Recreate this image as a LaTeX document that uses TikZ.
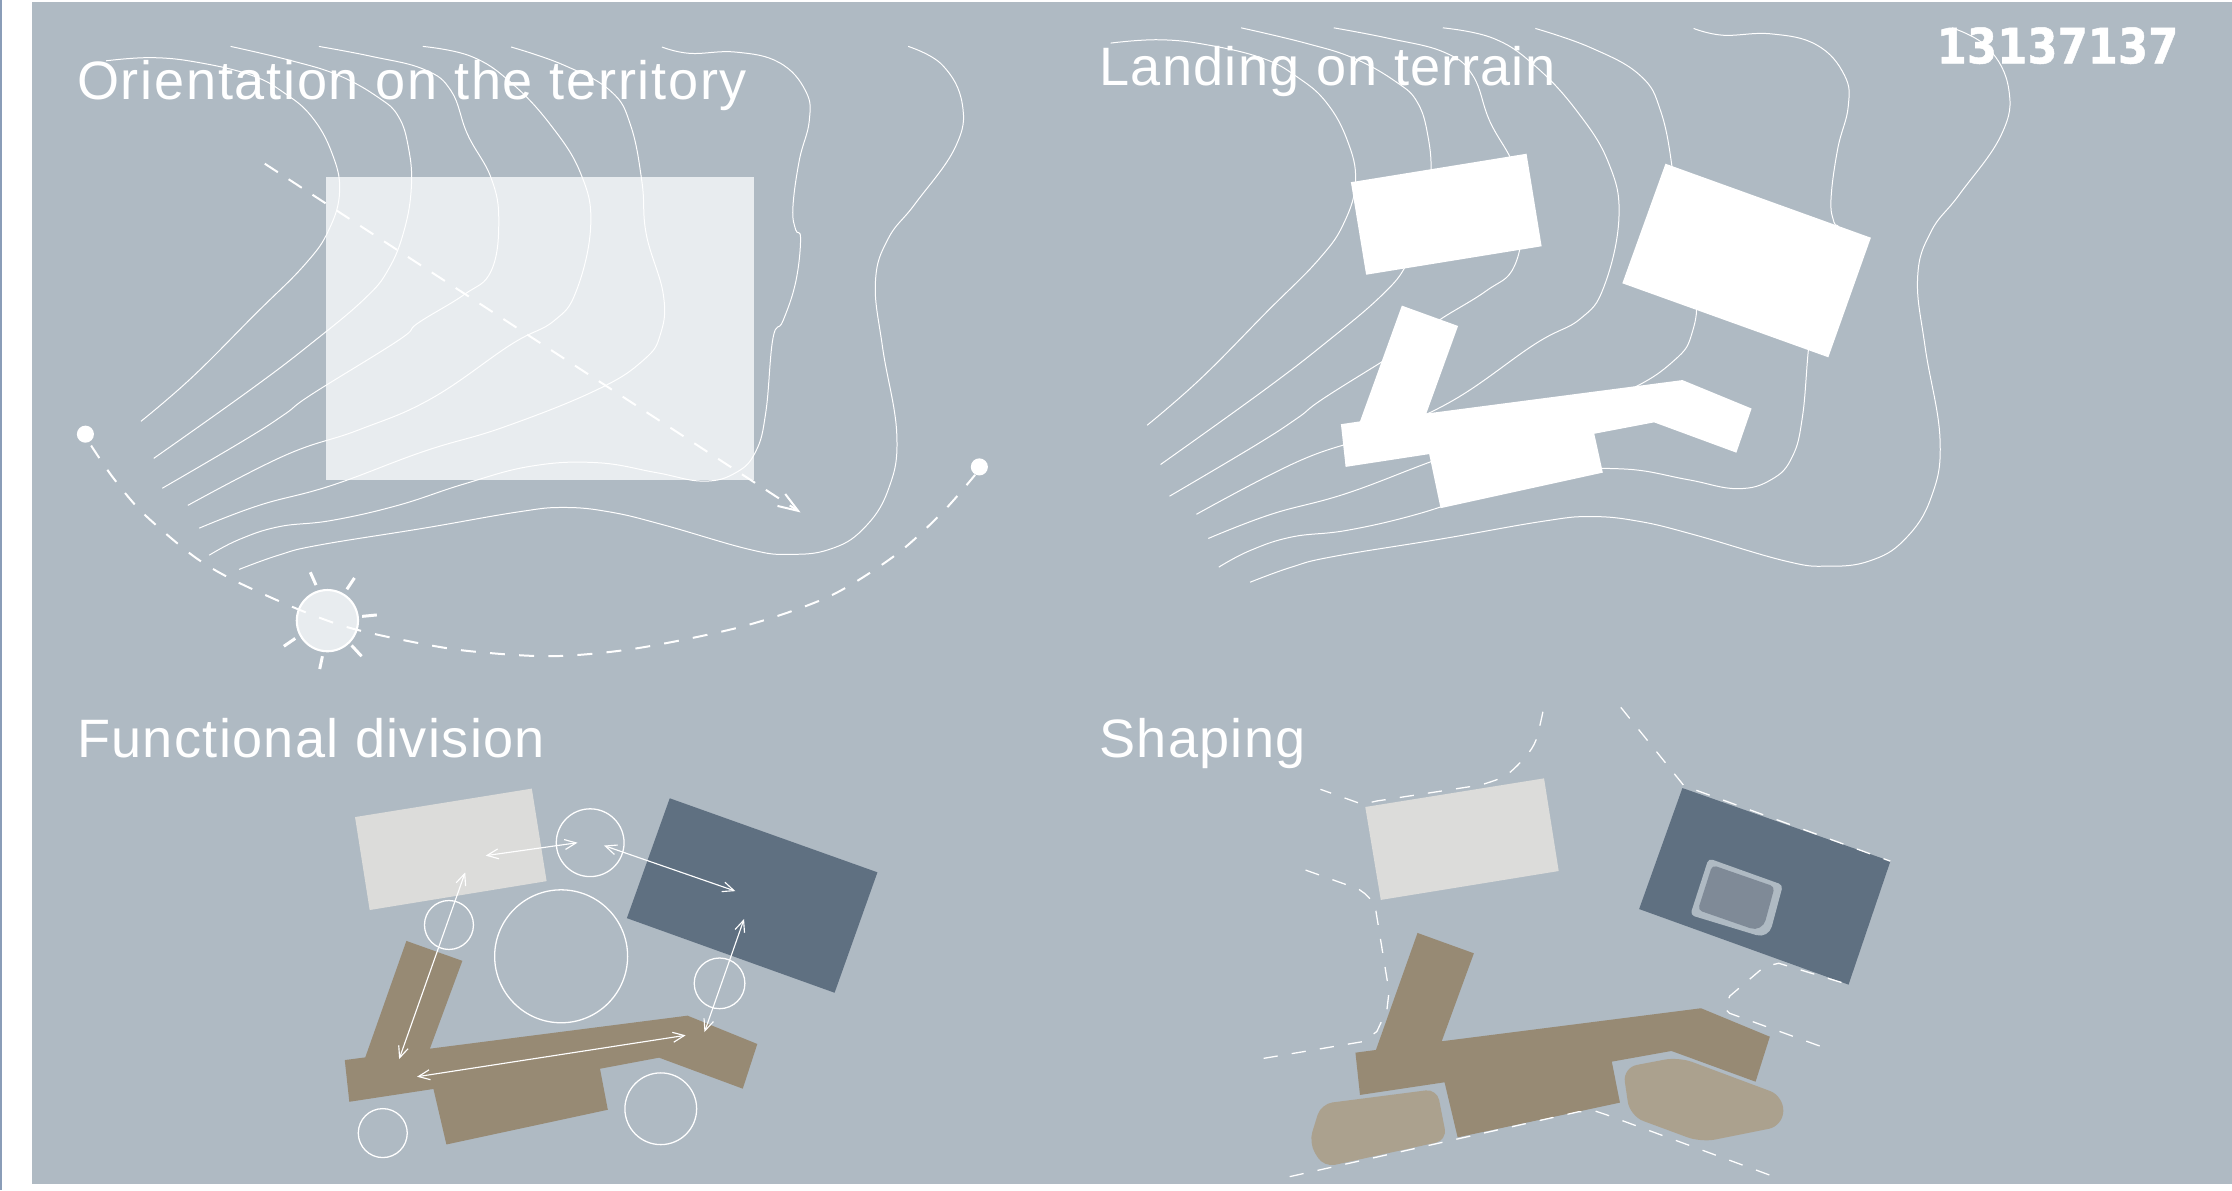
\documentclass[tikz,border=0pt]{standalone}
\usepackage{fontspec}
\setmainfont{Liberation Sans}
\newfontfamily\numberfont{DejaVu Sans}
\usetikzlibrary{arrows.meta}

\definecolor{panelgrey}{HTML}{AFBAC3}
\definecolor{edgeblue}{HTML}{8A9DB8}
\definecolor{plotpale}{HTML}{E8ECEF}
\definecolor{blockgrey}{HTML}{DCDCDA}
\definecolor{blockblue}{HTML}{5F7081}
\definecolor{blocktan}{HTML}{978A74}
\definecolor{terracetan}{HTML}{ABA18E}
\definecolor{poolgrey}{HTML}{7F8A97}

\tikzset{
	contourline/.style={white, line width=0.7pt},
	sunpath/.style={white, line width=1.4pt, dash pattern=on 10.5pt off 10pt},
	edgedash/.style={white, line width=0.9pt, dash pattern=on 10pt off 10pt},
	linkarrow/.style={white, line width=0.8pt, {Straight Barb[length=8pt,width=7pt]}-{Straight Barb[length=8pt,width=7pt]}},
	zonering/.style={draw=white, line width=0.9pt, inner sep=0pt, shape=circle},
	paneltitle/.style={white, anchor=base west, inner sep=0pt, font=\fontsize{38}{44}\selectfont\addfontfeature{LetterSpace=2.5}},
}

\newcommand{\contourset}{
	\draw[contourline] plot[smooth, tension=0.7] coordinates {(74.6,42.7) (107,40.5) (140,44) (177,53) (200,65.5) (219,82) (233,107) (238.6,134) (231,161.5) (214,186) (179,221) (135,265) (99,296)};
	\draw[contourline] plot[smooth, tension=0.7] coordinates {(162,32.6) (205,42.7) (238,53) (266,68.6) (280,82) (287,104) (289,131) (284,161.5) (273,189) (256,210) (219,241) (177,273) (108,322)};
	\draw[contourline] plot[smooth, tension=0.7] coordinates {(224,32.6) (261,39.6) (298,48.8) (317,64) (328.5,94.5) (345,125) (350.4,155) (345,190.4) (326,207) (293.6,227) (280,239) (219,277) (200,291) (172,309) (114,343)};
	\draw[contourline] plot[smooth, tension=0.7] coordinates {(297,32.6) (331,39.6) (359,58) (387,88) (408,122) (415,158) (405,204) (389,225.5) (359,242) (303,280) (252,302) (200,320) (132,355)};
	\draw[contourline] plot[smooth, tension=0.7] coordinates {(359,33) (396,45.7) (429,64) (443,88) (451,128) (454,164.5) (466,207) (464,234.6) (452,253) (419,274) (354,300) (298,317) (233,341) (182,355) (140,371)};
	\draw[contourline] plot[smooth, tension=0.7] coordinates {(465,33) (484.6,37.5) (517,36.6) (547.5,44) (566,64) (568.5,85) (561.5,112.7) (557,146) (559,161.5) (562.4,167.6) (559,198) (550,225.5) (543,237.7) (538,289.5) (531,317) (517,332) (494,338) (461,332) (419,325) (373,327.5) (326,340) (279.6,355) (233,365.6) (196,370) (168,379) (147,390)};
	\draw[contourline] plot[smooth, tension=0.7] coordinates {(638,32.6) (662,45.7) (676,73) (671,103.6) (643,143) (624,167.6) (615,198) (620,244) (630,305) (624,344) (606,372) (582.5,386) (554.5,389.4) (526.6,386) (466,368.7) (428.7,359.7) (396,356.5) (363.5,359.7) (298,371) (223.7,383) (195.7,390) (168,400)};
}

\begin{document}
\begin{tikzpicture}[x=1pt,y=-1pt]
	\useasboundingbox (0,0) rectangle (1568,836);
	\fill[white] (0,0) rectangle (1568,836);
	\fill[edgeblue] (0,0) rectangle (1.4,836);
	\fill[panelgrey] (22.5,1.4) rectangle (1568,831.7);

	% orientation
	\fill[plotpale] (229,124) rectangle (530,337);
	\contourset
	\coordinate (viewstart) at (186,115);
	\coordinate (viewend) at (562.4,360);
	\draw[white, line width=1.4pt, dash pattern=on 11pt off 9pt, -{Straight Barb[length=14pt,width=10pt]}] (viewstart) -- (viewend);
	\node[circle, fill=white, minimum size=12pt, inner sep=0pt] (sunrise) at (60,305) {};
	\node[circle, fill=white, minimum size=12pt, inner sep=0pt] (sunset) at (688,328) {};
	\node[circle, fill=plotpale, draw=white, line width=1.5pt, minimum size=43pt, inner sep=0pt] (sun) at (230,436) {};
	\draw[sunpath] plot[smooth] coordinates {(64,313) (79,335) (100,360) (135,390) (163,407) (207,427) (242,440) (280,449) (326,457) (387,461) (447,455.5) (522,440) (582.5,419) (629,390) (662,360) (685,333.6)};
	\foreach \xa/\ya/\xb/\yb in {218/402/222/411, 249/406/243.7/414, 264.7/432/254.4/433, 254/461/247/453.4, 224.6/470/226.5/461, 199.4/454/207.4/448.5}
		\draw[white, line width=2.1pt] (\xa,\ya) -- (\xb,\yb);

	% terrain
	\begin{scope}[xshift=702pt,yshift=15pt,xscale=1.049,yscale=1.06]
		\contourset
	\end{scope}
	\fill[white] (949,128) -- (1072.4,108) -- (1083,173) -- (959.7,193) -- cycle;
	\fill[white] (1170,115) -- (1314.3,167) -- (1284.4,251) -- (1139.7,199) -- cycle;
	\fill[white] (984.8,214.7) -- (1024.3,229) -- (1002,290.5) -- (1181.9,267) -- (1230.5,287) -- (1219.8,318) -- (1162,296.7) -- (1120,304.7) -- (1126,332) -- (1012,357) -- (1004,319) -- (945.3,328) -- (942,298) -- (955.4,296) -- cycle;

	% functional division
	\fill[blockgrey] (249.4,574) -- (373.6,554) -- (384,619) -- (259.7,639.3) -- cycle;
	\fill[blockblue] (470.5,560.8) -- (616.4,612.8) -- (586.3,697.4) -- (440.4,645) -- cycle;
	\fill[blocktan] (285.5,661) -- (324.8,675) -- (302,736.7) -- (483,713.5) -- (532,733.4) -- (521.8,764.8) -- (463,743) -- (421.5,750.8) -- (427,779.6) -- (313.6,804) -- (304.5,765) -- (245.4,774) -- (242.2,744.7) -- (256.6,742.8) -- cycle;
	\foreach \cx/\cy/\cd/\cname in {414.6/592/47.6/ringa, 315.4/649.8/34.4/ringb, 394.2/671.8/93.4/ringc, 505.5/690.8/35.6/ringd, 464.2/778.9/50.4/ringe, 268.9/796/34.4/ringf}
		\node[zonering, minimum size=\cd pt] (\cname) at (\cx,\cy) {};
	\foreach \xa/\ya/\xb/\yb in {341.2/601.1/405.7/592, 424.3/594/516.6/626, 326.8/612.8/280.4/744, 522.7/645.6/494.9/725, 481.7/727.3/293/756.4}
		\draw[linkarrow] (\xa,\ya) -- (\xb,\yb);

	% shaping
	\fill[blockgrey] (959.1,566.9) -- (1084.7,546.8) -- (1095,611.9) -- (970,632.2) -- cycle;
	\fill[blockblue] (1181.9,553.6) -- (1328,605) -- (1298.6,691.7) -- (1151.5,638.6) -- cycle;
	\fill[panelgrey, rounded corners=3pt] (1200.3,603) -- (1252.5,621.7) [rounded corners=9pt] -- (1242.4,659.5) [rounded corners=3pt] -- (1187.4,642.8) -- cycle;
	\fill[poolgrey, rounded corners=3pt] (1202.9,607.7) -- (1246.7,622.9) [rounded corners=9pt] -- (1238,655) [rounded corners=3pt] -- (1192.8,639.3) -- cycle;
	\fill[blocktan] (995.8,655.4) -- (1035.4,669.7) -- (1012.8,731.5) -- (1195,708.3) -- (1243.3,728.3) -- (1233.3,759.9) -- (1174.2,738.3) -- (1132.3,745.8) -- (1138,774.6) -- (1024,799) -- (1014.8,760.3) -- (955.4,769.2) -- (952.2,739.5) -- (966.6,737.6) -- cycle;
	\fill[terracetan, rounded corners=8pt] (928,775.5) -- (1009.5,765) -- (1016.5,801) -- (930,820) -- (919.5,803) -- cycle;
	\fill[terracetan, rounded corners=10pt] (1140,750) -- (1179.3,742.5) -- (1253,770) -- (1252.5,791) -- (1195,802.5) -- (1145,784) -- cycle;
	\draw[edgedash] plot[smooth] coordinates {(1083.9,500) (1079,520) (1071.8,531.5) (1057.5,545) (1040,551.5)} -- (967.2,562.7) -- (957,565) -- (927.6,554.5);
	\draw[edgedash] (887.7,743.5) -- (957.1,731.8) -- (967.2,724.7) -- (974.3,709.5) -- (975.8,696.6) -- (965.7,634.6) -- (958.6,627.6) -- (954.3,624.5) -- (910.4,608.8);
	\draw[edgedash] (1138.6,496.9) -- (1183,552) -- (1328,605);
	\draw[edgedash] (1278.3,734.8) -- (1215,711.8) -- (1211.5,708.4) -- (1215.2,699.7) -- (1239.6,679) -- (1249.6,676.7) -- (1298.6,691.7);
	\draw[edgedash] (906,826.6) -- (1109,781) -- (1120.6,780.5) -- (1129,783.3) -- (1246.2,826.6);

	\node[paneltitle] (titlea) at (54,70) {\addfontfeature{LetterSpace=3.2}Orientation on the territory};
	\node[paneltitle] (titleb) at (772,60) {Landing on terrain};
	\node[paneltitle] (titlec) at (54,532) {Functional division};
	\node[paneltitle] (titled) at (772,532) {Shaping};
	\node[white, anchor=base east, inner sep=0pt, font=\numberfont\bfseries\fontsize{30.5}{36}\selectfont\addfontfeature{FakeBold=1}] (plotcode) at (1530.5,44.5) {\scalebox{1}[1.12]{13137137}};
\end{tikzpicture}
\end{document}
